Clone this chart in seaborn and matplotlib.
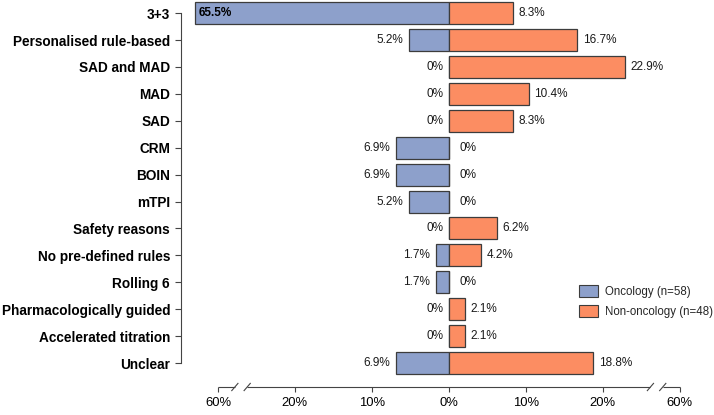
"""
Dose-escalation designs: oncology vs non-oncology trials (butterfly bar chart)
"""

import matplotlib
matplotlib.use("Agg")
import matplotlib.pyplot as plt
import matplotlib.patches as mpatches
import pandas as pd
import seaborn as sns

# %%
categories = [
    "3+3",
    "Personalised rule-based",
    "SAD and MAD",
    "MAD",
    "SAD",
    "CRM",
    "BOIN",
    "mTPI",
    "Safety reasons",
    "No pre-defined rules",
    "Rolling 6",
    "Pharmacologically guided",
    "Accelerated titration",
    "Unclear",
]
oncology = [65.5, 5.2, 0, 0, 0, 6.9, 6.9, 5.2, 0, 1.7, 1.7, 0, 0, 6.9]
non_oncology = [8.3, 16.7, 22.9, 10.4, 8.3, 0, 0, 0, 6.2, 4.2, 0, 2.1, 2.1, 18.8]

onc_label = "Oncology (n=58)"
non_label = "Non-oncology (n=48)"

tick_labels = ["60%", "20%", "10%", "0%", "10%", "20%", "60%"]
tick_pos = [-30, -20, -10, 0, 10, 20, 30]

# values beyond the axis break are shifted inwards
gap_start = 25
gap_size = 32.5


def squeeze(v):
    return v if v <= gap_start else v - gap_size


n = len(categories)
df = pd.DataFrame(
    {
        "category": categories * 2,
        "group": [onc_label] * n + [non_label] * n,
        "value": oncology + non_oncology,
    }
)
df["x"] = [
    -squeeze(v) if g == onc_label else squeeze(v)
    for v, g in zip(df["value"], df["group"])
]

# %%
sns.set_theme(style="white")
plt.rcParams["font.family"] = ["Liberation Sans", "DejaVu Sans"]

blue = "#8DA0CB"
orange = "#FC8D62"
edge = "#3c3c3c"

fig = plt.figure(figsize=(7.14, 4.15), dpi=100)
ax = fig.add_axes([181 / 714, 28 / 415, (712 - 181) / 714, 386 / 415])

sns.barplot(
    data=df,
    x="x",
    y="category",
    hue="group",
    order=categories,
    hue_order=[onc_label, non_label],
    palette=[blue, orange],
    saturation=1,
    dodge=False,
    width=0.82,
    edgecolor=edge,
    linewidth=0.9,
    legend=False,
    ax=ax,
)

y_axis = 13.89
ax.set_xlim(-34.8, 34.2)
ax.set_ylim(y_axis, -0.45)

# value labels
for i, v in enumerate(oncology):
    if v > gap_start:
        ax.text(-squeeze(v) + 0.5, i, f"{v:.1f}%", ha="left", va="center",
                fontsize=8.5, fontweight="bold", color="black")
    else:
        txt = "0%" if v == 0 else f"{v:.1f}%"
        ax.text(-v - 0.75, i, txt, ha="right", va="center", fontsize=8.5,
                color="#1a1a1a")
for i, v in enumerate(non_oncology):
    txt = "0%" if v == 0 else f"{v:.1f}%"
    xpos = 1.4 if v == 0 else squeeze(v) + 0.72
    ax.text(xpos, i, txt, ha="left", va="center", fontsize=8.5, color="#1a1a1a")

# axes styling
for side in ["top", "right", "bottom"]:
    ax.spines[side].set_visible(False)
ax.spines["left"].set_bounds(0, n - 1)
ax.spines["left"].set_color("#444444")
ax.spines["left"].set_linewidth(0.8)

ax.set_yticks(range(n))
ax.set_yticklabels(categories, fontsize=9.8, fontweight="bold")
ax.set_xticks(tick_pos)
ax.set_xticklabels(tick_labels, fontsize=9.4)
ax.tick_params(axis="y", left=True, length=4.3, width=0.8, color="#444444",
               pad=3.6, labelcolor="black")
ax.tick_params(axis="x", bottom=True, length=3.6, width=0.8, color="#444444",
               pad=3.6, labelcolor="black")
ax.set_xlabel("")
ax.set_ylabel("")

# broken x axis line
line_kw = dict(color="#444444", lw=0.8, clip_on=False, solid_capstyle="butt")
b1, b2 = 26.2, 27.8
ax.plot([-30, -b2], [y_axis, y_axis], **line_kw)
ax.plot([-b1, b1], [y_axis, y_axis], **line_kw)
ax.plot([b2, 30], [y_axis, y_axis], **line_kw)
for cx in [-b2, -b1, b1, b2]:
    ax.plot([cx - 0.45, cx + 0.45], [y_axis + 0.15, y_axis - 0.15], **line_kw)

# legend
handles = [
    mpatches.Patch(facecolor=blue, edgecolor=edge, linewidth=0.8, label=onc_label),
    mpatches.Patch(facecolor=orange, edgecolor=edge, linewidth=0.8, label=non_label),
]
ax.legend(
    handles=handles,
    loc="upper left",
    bbox_to_anchor=(579 / 714, 1 - 285 / 415),
    bbox_transform=fig.transFigure,
    frameon=False,
    fontsize=8.3,
    handlelength=1.65,
    handleheight=1.21,
    handletextpad=0.6,
    labelspacing=0.6,
    borderpad=0,
    borderaxespad=0,
)

fig.savefig("out.png", dpi=100)
